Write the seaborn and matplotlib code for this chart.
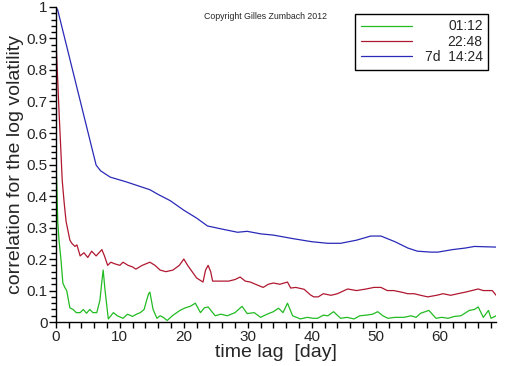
import numpy as np
import pandas as pd
import matplotlib
matplotlib.use("Agg")
import matplotlib.pyplot as plt
import seaborn as sns
from matplotlib.ticker import MultipleLocator, FuncFormatter

# lag in days / correlation of the log volatility
lag_1h = [0, 0.05, 0.2, 0.3, 0.5, 0.8, 1.1, 1.4, 1.7, 2.2,
          2.7, 3.2, 3.8, 4.3, 4.8, 5.3, 5.8, 6.4, 6.9, 7.2,
          7.4, 7.7, 8.2, 8.6, 9.0, 9.6, 10.5, 11.2, 12.0, 12.6,
          13.2, 13.8, 14.2, 14.5, 14.7, 15.2, 15.8, 16.3, 16.8, 17.4,
          18.2, 19.4, 20.2, 21.0, 21.8, 22.6, 23.2, 23.8, 24.9, 25.8,
          26.8, 28.0, 29.1, 29.9, 31.0, 32.0, 33.0, 34.0, 34.8, 35.5,
          36.2, 37.0, 38.2, 39.3, 40.2, 40.9, 41.8, 42.5, 43.4, 44.5,
          45.5, 46.6, 47.5, 48.5, 49.5, 50.3, 51.1, 51.9, 53.0, 54.4,
          55.5, 56.3, 57.0, 58.3, 59.4, 60.3, 61.3, 62.3, 63.3, 64.6,
          65.4, 66.0, 66.8, 67.6, 68.0, 68.8]
corr_1h = [0.72, 0.5, 0.4, 0.32, 0.26, 0.2, 0.124, 0.11, 0.1, 0.045,
           0.04, 0.03, 0.03, 0.04, 0.028, 0.04, 0.03, 0.03, 0.07, 0.13,
           0.165, 0.1, 0.01, 0.02, 0.03, 0.02, 0.012, 0.025, 0.018, 0.025,
           0.03, 0.04, 0.07, 0.09, 0.095, 0.04, 0.012, 0.02, 0.015, 0.005,
           0.02, 0.037, 0.045, 0.05, 0.06, 0.03, 0.045, 0.048, 0.02, 0.025,
           0.02, 0.03, 0.05, 0.027, 0.03, 0.015, 0.025, 0.033, 0.044, 0.03,
           0.06, 0.02, 0.01, 0.015, 0.012, 0.012, 0.022, 0.02, 0.033, 0.012,
           0.015, 0.01, 0.02, 0.022, 0.025, 0.033, 0.02, 0.012, 0.015, 0.015,
           0.02, 0.015, 0.028, 0.037, 0.012, 0.015, 0.012, 0.018, 0.02, 0.037,
           0.04, 0.048, 0.015, 0.037, 0.012, 0.02]

lag_1d = [0, 0.1, 0.5, 0.8, 1.0, 1.3, 1.6, 1.9, 2.2, 2.5,
          3.0, 3.3, 3.8, 4.4, 5.0, 5.6, 6.3, 7.2, 7.6, 8.1,
          8.6, 9.2, 10.0, 10.5, 11.3, 12.0, 12.5, 13.5, 14.7, 15.5,
          16.3, 17.2, 18.3, 19.3, 20.0, 20.6, 21.3, 22.0, 23.0, 23.4,
          23.8, 24.2, 24.5, 25.5, 27.0, 28.0, 28.8, 29.6, 30.4, 31.2,
          32.4, 33.2, 34.0, 35.0, 36.2, 36.7, 37.5, 38.8, 39.8, 40.3,
          41.0, 41.8, 43.0, 44.0, 45.6, 47.0, 48.5, 49.7, 50.8, 51.8,
          52.8, 54.0, 55.0, 56.0, 57.0, 58.1, 59.5, 60.5, 61.7, 62.8,
          64.0, 65.0, 66.0, 66.8, 67.6, 68.2, 68.8]
corr_1d = [1.0, 0.86, 0.67, 0.54, 0.45, 0.38, 0.32, 0.29, 0.26, 0.25,
           0.24, 0.245, 0.21, 0.22, 0.205, 0.225, 0.21, 0.23, 0.21, 0.18,
           0.19, 0.185, 0.18, 0.19, 0.18, 0.175, 0.168, 0.18, 0.19, 0.18,
           0.165, 0.16, 0.165, 0.18, 0.2, 0.18, 0.16, 0.14, 0.127, 0.165,
           0.18, 0.16, 0.13, 0.13, 0.13, 0.135, 0.143, 0.13, 0.127, 0.12,
           0.11, 0.12, 0.124, 0.12, 0.127, 0.108, 0.11, 0.104, 0.086, 0.08,
           0.08, 0.09, 0.085, 0.09, 0.105, 0.1, 0.105, 0.11, 0.11, 0.1,
           0.1, 0.095, 0.09, 0.09, 0.085, 0.08, 0.085, 0.09, 0.085, 0.09,
           0.095, 0.1, 0.105, 0.1, 0.1, 0.1, 0.085]

lag_1w = [0, 0.3, 6.3, 7.0, 8.5, 11.0, 14.7, 16.0, 17.9, 20.0,
          22.0, 23.7, 26.0, 28.4, 29.9, 32.0, 34.0, 37.0, 40.0, 42.5,
          44.5, 47.0, 49.2, 50.8, 53.0, 55.0, 56.5, 58.6, 59.7, 62.0,
          64.0, 65.4, 68.8]
corr_1w = [1.0, 0.99, 0.498, 0.48, 0.46, 0.445, 0.42, 0.405, 0.385, 0.355,
           0.33, 0.305, 0.295, 0.285, 0.288, 0.28, 0.276, 0.265, 0.255, 0.25,
           0.25, 0.26, 0.273, 0.273, 0.255, 0.235, 0.225, 0.222, 0.222, 0.23,
           0.235, 0.24, 0.238]

labels = ["01:12", "22:48", "7d  14:24"]
colors = ["#22bb22", "#b01830", "#2a2ab8"]

sns.set_style("ticks")
plt.rcParams["font.family"] = ["Liberation Sans", "DejaVu Sans"]

fig, ax = plt.subplots(figsize=(5.12, 3.66), dpi=100)
fig.subplots_adjust(left=0.109, right=0.969, top=0.981, bottom=0.12)

series = [(lag_1h, corr_1h), (lag_1d, corr_1d), (lag_1w, corr_1w)]
for (lag, corr), lab, col in zip(series, labels, colors):
    df = pd.DataFrame({"lag": lag, "corr": corr})
    sns.lineplot(data=df, x="lag", y="corr", ax=ax, color=col, linewidth=0.9,
                 label=lab, estimator=None, sort=False)

ax.set_xlim(0, 68.8)
ax.set_ylim(0, 1)
sns.despine(ax=ax)
for side in ["left", "bottom"]:
    ax.spines[side].set_linewidth(1.0)
    ax.spines[side].set_color("black")

ax.xaxis.set_major_locator(MultipleLocator(10))
ax.xaxis.set_minor_locator(MultipleLocator(2))
ax.yaxis.set_major_locator(MultipleLocator(0.1))
ax.yaxis.set_minor_locator(MultipleLocator(0.02))
ax.yaxis.set_major_formatter(FuncFormatter(lambda v, p: "%g" % round(v, 2)))
ax.tick_params(axis="both", which="both", direction="out", color="black", width=1.0)
ax.tick_params(axis="y", which="major", length=5, labelsize=11, pad=1)
ax.tick_params(axis="y", which="minor", length=3.5)
ax.tick_params(axis="x", which="major", length=4, labelsize=11, pad=2)
ax.tick_params(axis="x", which="minor", length=4)

ax.set_xlabel("time lag  [day]", fontsize=14, labelpad=0)
ax.set_ylabel("correlation for the log volatility", fontsize=14, labelpad=2)

leg = ax.legend(loc="upper right", bbox_to_anchor=(0.982, 0.978), borderaxespad=0,
                fontsize=10, handlelength=3.7, handletextpad=0.9,
                labelspacing=0.1, borderpad=0.4, fancybox=False, framealpha=1)
leg.get_frame().set_edgecolor("black")
leg.get_frame().set_linewidth(1.0)

# right-align the legend labels: push the shorter ones right by the width gap
fig.canvas.draw()
renderer = fig.canvas.get_renderer()
widths = [t.get_window_extent(renderer).width for t in leg.get_texts()]
for t, w in zip(leg.get_texts(), widths):
    t.set_position((max(widths) - w, 0))

fig.text(0.518, 0.956, "Copyright Gilles Zumbach 2012", fontsize=6.3,
         ha="center", va="center")

fig.savefig("out.png", dpi=100)
